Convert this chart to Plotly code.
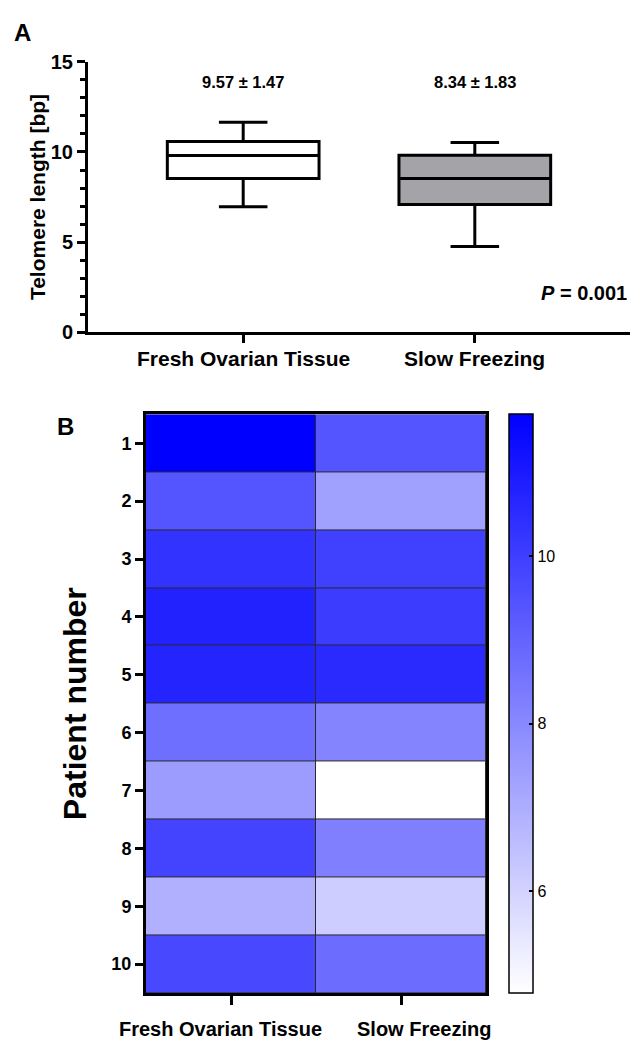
import plotly.graph_objects as go

# ---------------- data ----------------
groups = ["Fresh Ovarian Tissue", "Slow Freezing"]
box_q1 = [8.53, 7.08]
box_median = [9.80, 8.53]
box_q3 = [10.58, 9.82]
box_low = [6.96, 4.76]
box_high = [11.65, 10.53]
box_fill = ["#ffffff", "#a3a3a8"]
mean_sd_labels = ["9.57 \u00b1 1.47", "8.34 \u00b1 1.83"]
p_label = "<i>P</i> = 0.001"

patients = [str(i) for i in range(1, 11)]
fresh_vals = [11.70, 9.40, 10.32, 10.78, 10.72, 8.72, 7.47, 9.85, 6.93, 9.75]
slow_vals = [9.40, 7.36, 9.96, 10.06, 10.56, 8.12, 4.78, 8.23, 6.14, 8.77]
cbar_ticks = [6, 8, 10]
heat_label_shift = [-11, 23]

FONT = "Liberation Sans, Arial, sans-serif"
W, H = 630, 1052

fig = go.Figure()

# ---------------- panel A: box plot ----------------
for i, g in enumerate(groups):
    fig.add_trace(go.Box(
        x=[g], q1=[box_q1[i]], median=[box_median[i]], q3=[box_q3[i]],
        lowerfence=[box_low[i]], upperfence=[box_high[i]],
        fillcolor=box_fill[i], line=dict(color="black", width=3),
        width=0.655, whiskerwidth=0.32, boxpoints=False,
        showlegend=False, xaxis="x", yaxis="y", hoverinfo="skip"))

for i, g in enumerate(groups):
    fig.add_annotation(x=g, y=13.86, xref="x", yref="y", text=f"<b>{mean_sd_labels[i]}</b>",
                       showarrow=False, font=dict(family=FONT, size=16.5, color="black"))
    fig.add_annotation(x=g, xref="x", y=1 - 355 / H, yref="paper", yanchor="middle",
                       text=f"<b>{g}</b>", showarrow=False,
                       font=dict(family=FONT, size=21, color="black"))

fig.add_annotation(x=1.0, y=2.17, xref="paper", yref="y", xanchor="right", xshift=-1,
                   text=f"<b>{p_label}</b>", showarrow=False,
                   font=dict(family=FONT, size=20, color="black"))

# ---------------- panel B: heatmap ----------------
z = [[fresh_vals[k], slow_vals[k]] for k in range(len(patients))]
fig.add_trace(go.Heatmap(
    z=z, x=groups, y=patients, xaxis="x2", yaxis="y2",
    colorscale=[[0, "#ffffff"], [1, "#0000ff"]], zmin=min(slow_vals), zmax=max(fresh_vals),
    xgap=1, ygap=1, hoverinfo="skip",
    colorbar=dict(x=509 / W, xanchor="left", y=1 - 1003 / H, yanchor="bottom",
                  len=591 / H, lenmode="fraction", thickness=24, xpad=0, ypad=0,
                  outlinewidth=1.5, outlinecolor="black",
                  tickvals=cbar_ticks, ticks="inside", ticklen=4, tickwidth=1.5,
                  tickcolor="black",
                  tickfont=dict(family=FONT, size=16, color="black"))))

# dark backdrop so the cell gaps read as thin grid lines
fig.add_shape(type="rect", xref="x2 domain", yref="y2 domain", x0=0, x1=1, y0=0, y1=1,
              fillcolor="#2a2a2a", line=dict(width=0), layer="below")

for i, g in enumerate(groups):
    fig.add_annotation(x=g, xref="x2", y=1 - 1040 / H, yref="paper", yanchor="middle",
                       xshift=heat_label_shift[i], text=f"<b>{g}</b>", showarrow=False,
                       font=dict(family=FONT, size=20, color="black"))

fig.update_layout(
    width=W, height=H, margin=dict(l=0, r=0, t=0, b=0),
    paper_bgcolor="white", plot_bgcolor="white",
    font=dict(family=FONT, color="black"),
    xaxis=dict(domain=[88 / W, 1.0], anchor="y", type="category",
               range=[-0.67, 1.67], showline=True, linewidth=3, linecolor="black",
               ticks="outside", ticklen=8, tickwidth=3, tickcolor="black",
               showticklabels=False, showgrid=False, zeroline=False),
    yaxis=dict(domain=[1 - 328 / H, 1 - 52 / H], anchor="x", range=[0, 15],
               tickvals=[0, 5, 10, 15], showline=True, linewidth=3, linecolor="black",
               ticks="outside", ticklen=8, tickwidth=3, tickcolor="black",
               minor=dict(dtick=1, ticks="outside", ticklen=5, tickwidth=2.5, tickcolor="black"),
               showgrid=False, zeroline=False,
               tickfont=dict(family=FONT, size=20, color="black", weight="bold"),
               title=dict(text="Telomere length [bp]", standoff=0,
                          font=dict(family=FONT, size=21, color="black", weight="bold"))),
    xaxis2=dict(domain=[146 / W, 486 / W], anchor="y2", type="category",
                range=[-0.5, 1.5], autorange=False,
                showline=True, linewidth=3, linecolor="black", mirror=True,
                ticks="outside", ticklen=9, tickwidth=3, tickcolor="black",
                showticklabels=False, showgrid=False, zeroline=False),
    yaxis2=dict(domain=[1 - 1003 / H, 1 - 412 / H], anchor="x2", type="category",
                range=[9.5, -0.5], autorange=False,
                showline=True, linewidth=3, linecolor="black", mirror=True,
                ticks="outside", ticklen=8, tickwidth=2.5, tickcolor="black",
                showgrid=False, zeroline=False,
                tickfont=dict(family=FONT, size=18, color="black", weight="bold"),
                title=dict(text="Patient number", standoff=16,
                           font=dict(family=FONT, size=32, color="black", weight="bold"))),
)

fig.add_annotation(x=22 / W, y=1 - 22 / H, xref="paper", yref="paper", text="<b>A</b>",
                   xanchor="center", yanchor="middle",
                   showarrow=False, font=dict(family=FONT, size=24, color="black"))
fig.add_annotation(x=65 / W, y=1 - 424 / H, xref="paper", yref="paper", text="<b>B</b>",
                   xanchor="center", yanchor="middle",
                   showarrow=False, font=dict(family=FONT, size=24, color="black"))

fig.write_html("out.html", config={"displayModeBar": False},
               post_script="document.body.style.margin='0';document.body.style.padding='0';")
